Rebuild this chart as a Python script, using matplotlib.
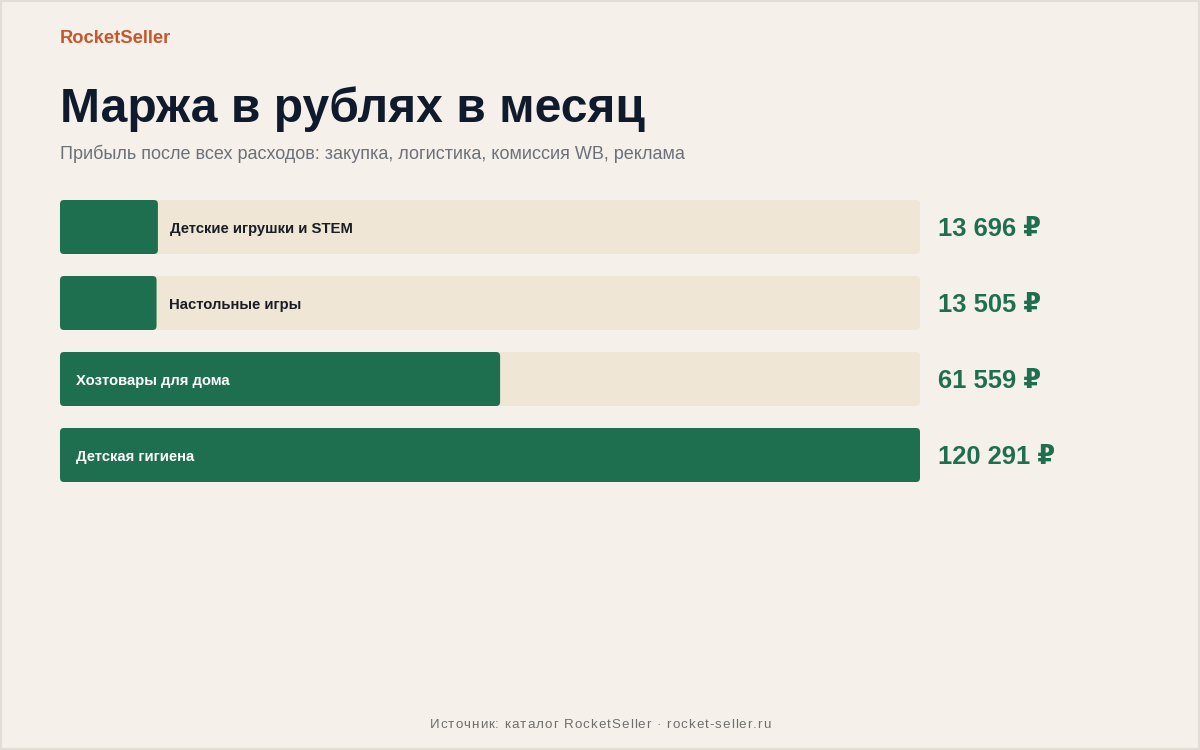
import matplotlib
matplotlib.use("Agg")
import matplotlib.pyplot as plt
from matplotlib.patches import FancyBboxPatch, Rectangle

plt.rcParams['font.family'] = ['Liberation Sans', 'DejaVu Sans']

categories = ["Детские игрушки и STEM", "Настольные игры", "Хозтовары для дома", "Детская гигиена"]
margins = [13696, 13505, 61559, 120291]
value_labels = ["13 696 ₽", "13 505 ₽", "61 559 ₽", "120 291 ₽"]

BG = "#F5F1EA"
TRACK = "#EFE6D5"
GREEN = "#1E6F4F"
DARK = "#0F1B2D"

W, H = 1200, 750
fig = plt.figure(figsize=(12, 7.5), dpi=100, facecolor=BG)
fig.patches.append(Rectangle((0, 0), 1, 1, transform=fig.transFigure, fill=False,
                             ec="#E3DED5", lw=3))

def px(x, y):
    return x / W, 1 - y / H

fig.text(*px(60, 43), "RocketSeller", color="#C4582C", fontsize=13.2, weight="bold", va="baseline")
fig.text(*px(60, 122), "Маржа в рублях в месяц", color=DARK, fontsize=34.6, weight="bold", va="baseline")
fig.text(*px(60, 159), "Прибыль после всех расходов: закупка, логистика, комиссия WB, реклама",
         color="#6B7079", fontsize=13, va="baseline")

# footer with letter spacing, drawn char by char
footer = "Источник: каталог RocketSeller · rocket-seller.ru"
fsz = 9.6
renderer = fig.canvas.get_renderer()
spacing = 1.0
space_w = 0.278 * fsz * 100 / 72
widths = []
probe = []
for ch in footer:
    if ch == " ":
        widths.append(space_w)
        continue
    t = fig.text(0, 0, ch, fontsize=fsz)
    probe.append(t)
    widths.append(t.get_window_extent(renderer).width)
for t in probe:
    t.remove()
total = sum(widths) + spacing * (len(footer) - 1)
x = 600 - total / 2
for ch, w in zip(footer, widths):
    if ch != " ":
        fig.text(*px(x, 728), ch, color="#6E6E6E", fontsize=fsz, va="baseline")
    x += w + spacing

# bar area: x 60..920, y 200..482
ax = fig.add_axes([60 / W, 1 - 482 / H, 860 / W, 282 / H])
ax.set_facecolor("none")
vmax = max(margins)
bh = 54 / 76
ax.set_xlim(0, vmax)
ax.set_ylim(3 + bh / 2, -bh / 2)
ax.axis("off")

rx = 4 * vmax / 860
ry = 4 / 76
for i, (cat, v, lab) in enumerate(zip(categories, margins, value_labels)):
    track = FancyBboxPatch((0, i - bh / 2), vmax, bh,
                           boxstyle=f"round,pad=0,rounding_size={rx}",
                           mutation_aspect=ry / rx, fc=TRACK, ec="none")
    ax.add_patch(track)
    bar = FancyBboxPatch((0, i - bh / 2), v, bh,
                         boxstyle=f"round,pad=0,rounding_size={rx}",
                         mutation_aspect=ry / rx, fc=GREEN, ec="none")
    ax.add_patch(bar)
    if v / vmax > 0.3:
        ax.annotate(cat, (0, i), xytext=(16, -6), textcoords="offset pixels",
                    color="white", fontsize=10.75, weight="bold", va="baseline")
    else:
        ax.annotate(cat, (v, i), xytext=(12, -6), textcoords="offset pixels",
                    color="#1A1D26", fontsize=10.75, weight="bold", va="baseline")
    ax.annotate(lab, (vmax, i), xytext=(18, -9), textcoords="offset pixels",
                color=GREEN, fontsize=18.4, weight="bold", va="baseline", annotation_clip=False)

fig.savefig("out.png", dpi=100, facecolor=BG)
